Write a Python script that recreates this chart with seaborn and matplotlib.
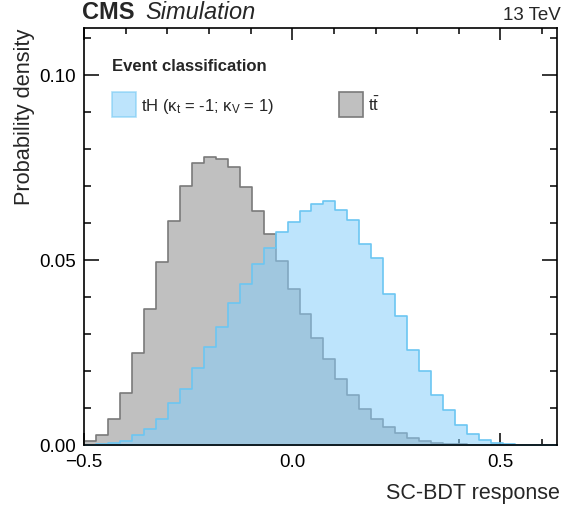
import numpy as np
import pandas as pd
import matplotlib.pyplot as plt
import seaborn as sns
from matplotlib.patches import Patch
from matplotlib.ticker import MultipleLocator

# binning of the SC-BDT response (40 bins from -0.5 to 0.65)
bin_edges = list(np.linspace(-0.5, 0.65, 41))
bin_centers = [0.5 * (a + b) for a, b in zip(bin_edges[:-1], bin_edges[1:])]

# fraction of events per bin
ttbar = [0.0010, 0.0025, 0.0068, 0.0138, 0.0247, 0.0366, 0.0494, 0.0605, 0.0699, 0.0760,
         0.0776, 0.0771, 0.0749, 0.0697, 0.0631, 0.0568, 0.0495, 0.0420, 0.0352, 0.0289,
         0.0231, 0.0178, 0.0133, 0.0095, 0.0069, 0.0046, 0.0031, 0.0017, 0.0009, 0.0004,
         0.0002, 0.0001, 0.0, 0.0, 0.0, 0.0, 0.0, 0.0, 0.0, 0.0]
tH = [0.0, 0.0001, 0.0003, 0.0009, 0.0025, 0.0043, 0.0068, 0.0112, 0.0151, 0.0206,
      0.0264, 0.0318, 0.0383, 0.0433, 0.0489, 0.0532, 0.0575, 0.0602, 0.0631, 0.0650,
      0.0659, 0.0634, 0.0606, 0.0543, 0.0503, 0.0406, 0.0348, 0.0256, 0.0199, 0.0133,
      0.0093, 0.0054, 0.0028, 0.0012, 0.0004, 0.0001, 0.0, 0.0, 0.0, 0.0]

labels = [r'tH ($\kappa_\mathregular{t}$ = -1; $\kappa_\mathregular{V}$ = 1)', r'$\mathregular{t\bar{t}}$']
xticks = [-0.5, 0.0, 0.5]
xticklabels = ['\u22120.5', '0.0', '0.5']
yticks = [0.0, 0.05, 0.10]
yticklabels = ['0.00', '0.05', '0.10']

df_tt = pd.DataFrame({'x': bin_centers, 'w': ttbar})
df_th = pd.DataFrame({'x': bin_centers, 'w': tH})

sns.set_style('ticks')
plt.rcParams['font.family'] = ['Liberation Sans', 'DejaVu Sans']
plt.rcParams['mathtext.fontset'] = 'custom'
plt.rcParams['mathtext.rm'] = 'Liberation Sans'
plt.rcParams['mathtext.it'] = 'Liberation Sans'
plt.rcParams['mathtext.bf'] = 'Liberation Sans:bold'

fig, ax = plt.subplots(figsize=(5.62, 5.10), dpi=100)
fig.subplots_adjust(left=84/562, right=556.7/562, bottom=1-445.5/510, top=1-29/510)

grey_face, grey_edge = '#c0c0c0', '#7a7a7a'
blue_face, blue_edge = '#87cefa', '#6cc6f2'

sns.histplot(data=df_tt, x='x', weights='w', bins=bin_edges,
             element='step', fill=True, color=grey_face, alpha=1.0,
             edgecolor=grey_edge, linewidth=1.2, ax=ax)
sns.histplot(data=df_th, x='x', weights='w', bins=bin_edges,
             element='step', fill=True, color=blue_face, alpha=0.55,
             edgecolor=blue_edge, linewidth=1.2, ax=ax)

ax.set_xlim(-0.5, 0.635)
ax.set_ylim(0, 0.1126)
ax.set_xticks(xticks, xticklabels)
ax.set_yticks(yticks, yticklabels)
ax.xaxis.set_minor_locator(MultipleLocator(0.1))
ax.yaxis.set_minor_locator(MultipleLocator(0.01))
ax.tick_params(which='both', direction='in', top=True, right=True, width=1.1, labelsize=13.5, colors='black')
ax.tick_params(axis='x', which='major', length=8.5, pad=6)
ax.tick_params(axis='x', which='minor', length=4.2)
ax.tick_params(axis='y', which='major', length=10.5, pad=6)
ax.tick_params(axis='y', which='minor', length=5)
for s in ax.spines.values():
    s.set_linewidth(1.2)
    s.set_color('black')

ax.set_xlabel('SC-BDT response', loc='right', fontsize=15.5)
ax.xaxis.set_label_coords((560 - 84) / 472.7, -(483 - 445.5) / 416.5)
ax.set_ylabel('Probability density', loc='top', fontsize=15.7)
ax.yaxis.set_label_coords(-(84 - 35) / 472.7, 1.0)

fig.text(81.7/562, 1-19/510, 'CMS', fontsize=17, fontweight='bold', va='baseline')
fig.text(145/562, 1-19/510, 'Simulation', fontsize=17, fontstyle='italic', va='baseline')
fig.text(0.997, 1-20.5/510, '13 TeV', fontsize=13.5, ha='right', va='baseline')

handles = [Patch(facecolor=blue_face, alpha=0.55, edgecolor=blue_edge, linewidth=1.2),
           Patch(facecolor=grey_face, edgecolor=grey_edge, linewidth=1.2)]
leg = ax.legend(handles, labels, ncol=2, loc='upper left', bbox_to_anchor=(0.045, 0.943),
                frameon=False, fontsize=12, title='Event classification',
                title_fontproperties={'weight': 'bold', 'size': 12}, alignment='left',
                handlelength=1.45, handleheight=2.0, handletextpad=0.3, columnspacing=3.9,
                labelspacing=1.1, borderaxespad=0)

fig.savefig('out.png', dpi=100)
